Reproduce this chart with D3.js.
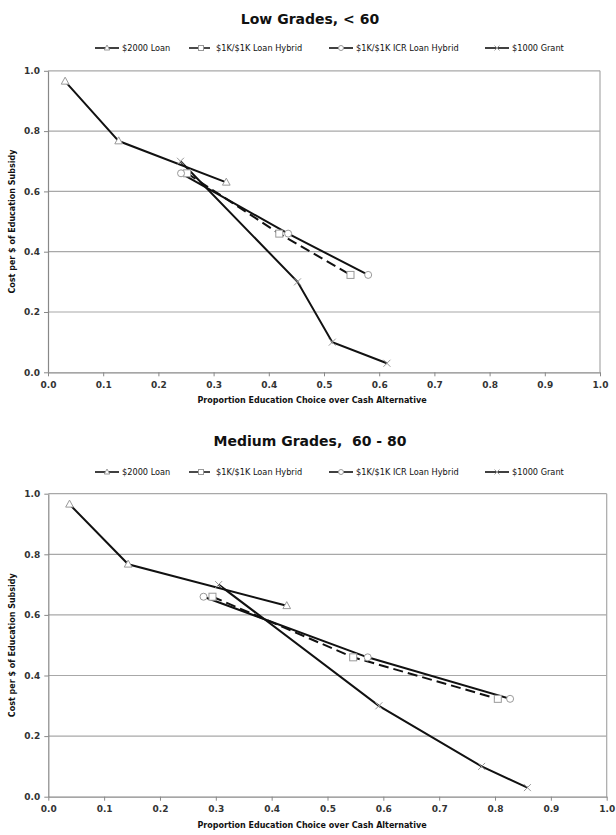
<!DOCTYPE html>
<html>
<head>
<meta charset="utf-8">
<script src="https://cdn.jsdelivr.net/npm/d3@7"></script>
<style>
  html, body { margin: 0; padding: 0; background: #fff; }
  svg { display: block; font-family: "DejaVu Sans", Verdana, sans-serif; }
  text { white-space: pre; }
</style>
</head>
<body>
<svg id="chart" width="616" height="835"></svg>
<script>
// Axis ticks
const xTicks = [0, 0.1, 0.2, 0.3, 0.4, 0.5, 0.6, 0.7, 0.8, 0.9, 1.0];
const yTicks = [0, 0.2, 0.4, 0.6, 0.8, 1.0];

// Series names (legend order)
const seriesNames = ["$2000 Loan", "$1K/$1K Loan Hybrid", "$1K/$1K ICR Loan Hybrid", "$1000 Grant"];

// Cost per $ of education subsidy (same for both grade groups)
const costLoan = [0.965, 0.767, 0.63];
const costHybrid = [0.66, 0.46, 0.323];
const costIcr = [0.66, 0.46, 0.323];
const costGrant = [0.70, 0.30, 0.10, 0.03];

// Proportion choosing education — low grades (< 60)
const lowLoanX = [0.031, 0.128, 0.323];
const lowHybridX = [0.252, 0.419, 0.548];
const lowIcrX = [0.241, 0.435, 0.580];
const lowGrantX = [0.240, 0.452, 0.515, 0.614];

// Proportion choosing education — medium grades (60 - 80)
const medLoanX = [0.038, 0.143, 0.427];
const medHybridX = [0.294, 0.546, 0.805];
const medIcrX = [0.278, 0.572, 0.827];
const medGrantX = [0.305, 0.592, 0.776, 0.858];

const svg = d3.select("#chart");

const seriesStyle = [
  { marker: "triangle", dash: null },
  { marker: "square", dash: "10,5" },
  { marker: "circle", dash: null },
  { marker: "cross", dash: null }
];

function drawMarker(g, type, x, y, size) {
  const s = size;
  const stroke = "#999";
  if (type === "triangle") {
    g.append("path")
      .attr("d", `M${x},${y - s * 0.6}L${x + s * 0.55},${y + s * 0.4}L${x - s * 0.55},${y + s * 0.4}Z`)
      .attr("fill", "#fff").attr("stroke", stroke).attr("stroke-width", 1);
  } else if (type === "square") {
    g.append("rect")
      .attr("x", x - s / 2).attr("y", y - s / 2).attr("width", s).attr("height", s)
      .attr("fill", "#fff").attr("stroke", stroke).attr("stroke-width", 1);
  } else if (type === "circle") {
    g.append("circle")
      .attr("cx", x).attr("cy", y).attr("r", s / 2)
      .attr("fill", "#fff").attr("stroke", stroke).attr("stroke-width", 1);
  } else if (type === "cross") {
    const h = s / 2;
    g.append("path")
      .attr("d", `M${x - h},${y - h}L${x + h},${y + h}M${x - h},${y + h}L${x + h},${y - h}`)
      .attr("fill", "none").attr("stroke", stroke).attr("stroke-width", 1);
  }
}

function drawPanel(cfg) {
  const g = svg.append("g");

  // Title
  g.append("text")
    .attr("x", cfg.titleX).attr("y", cfg.titleY)
    .attr("text-anchor", "middle")
    .attr("font-size", 14).attr("font-weight", "bold").attr("fill", "#111")
    .text(cfg.title);

  // Legend
  const lg = g.append("g").attr("transform", `translate(0,${cfg.legendY})`);
  const legendX = [95, 189, 329, 485];
  seriesNames.forEach((name, i) => {
    const x0 = legendX[i];
    lg.append("line")
      .attr("x1", x0).attr("x2", x0 + 24).attr("y1", 0).attr("y2", 0)
      .attr("stroke", "#111").attr("stroke-width", 1.6)
      .attr("stroke-dasharray", seriesStyle[i].dash ? "9,3" : null);
    drawMarker(lg, seriesStyle[i].marker, x0 + 12, 0, 5);
    lg.append("text")
      .attr("x", x0 + 27).attr("y", 3)
      .attr("font-size", 8.2).attr("fill", "#111")
      .text(name);
  });

  const x = d3.scaleLinear().domain([0, 1]).range([cfg.left, cfg.right]);
  const y = d3.scaleLinear().domain([0, 1]).range([cfg.bottom, cfg.top]);

  // Gridlines
  g.append("g").selectAll("line")
    .data(yTicks.filter(t => t > 0))
    .join("line")
    .attr("x1", cfg.left).attr("x2", cfg.right)
    .attr("y1", d => y(d)).attr("y2", d => y(d))
    .attr("stroke", "#a8a8a8").attr("stroke-width", 1.2);

  // Plot frame (right side)
  g.append("line")
    .attr("x1", cfg.right).attr("x2", cfg.right)
    .attr("y1", cfg.top).attr("y2", cfg.bottom)
    .attr("stroke", "#a8a8a8").attr("stroke-width", 1.2);

  // Axes
  const xAxis = g.append("g")
    .attr("transform", `translate(0,${cfg.bottom})`)
    .call(d3.axisBottom(x).tickValues(xTicks).tickFormat(d3.format(".1f")).tickSize(4).tickSizeOuter(0));
  const yAxis = g.append("g")
    .attr("transform", `translate(${cfg.left},0)`)
    .call(d3.axisLeft(y).tickValues(yTicks).tickFormat(d3.format(".1f")).tickSize(4).tickSizeOuter(0));
  [xAxis, yAxis].forEach(a => {
    a.select(".domain").attr("stroke", "#888").attr("stroke-width", 1.2);
    a.selectAll(".tick line").attr("stroke", "#888");
    a.selectAll(".tick text")
      .attr("font-size", 9).attr("font-weight", "bold").attr("fill", "#333")
      .attr("font-family", "DejaVu Sans, Verdana, sans-serif");
  });
  xAxis.selectAll(".tick text").attr("dy", "0.95em");
  yAxis.selectAll(".tick text").attr("x", -8);

  // Axis titles
  g.append("text")
    .attr("x", cfg.xTitleX).attr("y", cfg.bottom + 31)
    .attr("text-anchor", "middle")
    .attr("font-size", 8).attr("font-weight", "bold").attr("fill", "#111")
    .text("Proportion Education Choice over Cash Alternative");
  g.append("text")
    .attr("transform", `translate(15,${(cfg.top + cfg.bottom) / 2}) rotate(-90)`)
    .attr("text-anchor", "middle")
    .attr("font-size", 8).attr("font-weight", "bold").attr("fill", "#111")
    .text("Cost per $ of Education Subsidy");

  // Series
  const line = d3.line().x(d => x(d[0])).y(d => y(d[1]));
  cfg.series.forEach((s, i) => {
    const pts = s.xs.map((v, k) => [v, s.ys[k]]);
    g.append("path")
      .datum(pts)
      .attr("d", line)
      .attr("fill", "none")
      .attr("stroke", "#111")
      .attr("stroke-width", 2)
      .attr("stroke-dasharray", seriesStyle[i].dash);
  });
  cfg.series.forEach((s, i) => {
    s.xs.forEach((v, k) => drawMarker(g, seriesStyle[i].marker, x(v), y(s.ys[k]), 7));
  });
}

drawPanel({
  title: "Low Grades, < 60",
  titleX: 310, titleY: 24, legendY: 48,
  left: 48, right: 600, top: 70.8, bottom: 372.3, xTitleX: 312,
  series: [
    { xs: lowLoanX, ys: costLoan },
    { xs: lowHybridX, ys: costHybrid },
    { xs: lowIcrX, ys: costIcr },
    { xs: lowGrantX, ys: costGrant }
  ]
});

drawPanel({
  title: "Medium Grades,  60 - 80",
  titleX: 310, titleY: 446, legendY: 472,
  left: 48.3, right: 606.7, top: 493.7, bottom: 796.7, xTitleX: 312,
  series: [
    { xs: medLoanX, ys: costLoan },
    { xs: medHybridX, ys: costHybrid },
    { xs: medIcrX, ys: costIcr },
    { xs: medGrantX, ys: costGrant }
  ]
});
</script>
</body>
</html>
